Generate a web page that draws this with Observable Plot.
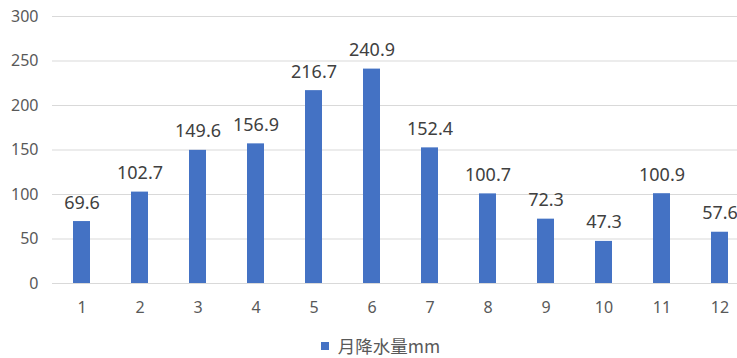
<!DOCTYPE html>
<html>
<head>
<meta charset="utf-8">
<script src="https://cdn.jsdelivr.net/npm/d3@7"></script>
<script src="https://cdn.jsdelivr.net/npm/@observablehq/plot@0.6"></script>
<style>
  html, body { margin: 0; padding: 0; background: #fff; }
  #chart { width: 737px; }
  .legend { height: 22px; padding-top: 10px; display: flex; justify-content: center; align-items: center;
    font-family: "Noto Sans CJK SC", "Noto Sans", sans-serif; font-size: 17.5px; line-height: 22px; color: #595959; padding-left: 24px; box-sizing: content-box; }
  .legend .sw { width: 8px; height: 8px; background: #4472c4; margin-right: 9px; }
</style>
</head>
<body>
<div id="chart"></div>
<script>
const months = ["1","2","3","4","5","6","7","8","9","10","11","12"];
const rainfall = [69.6, 102.7, 149.6, 156.9, 216.7, 240.9, 152.4, 100.7, 72.3, 47.3, 100.9, 57.6];
const yTicks = [0, 50, 100, 150, 200, 250, 300];
const seriesName = "月降水量mm";

const data = months.map((m, i) => ({month: m, value: rainfall[i]}));
const font = "'Noto Sans', 'Open Sans', sans-serif";

const plot = Plot.plot({
  width: 737,
  height: 325,
  marginTop: 16,
  marginBottom: 42,
  marginLeft: 52,
  marginRight: 0,
  style: {fontFamily: font, background: "#fff", overflow: "visible"},
  x: {domain: months, range: [52, 748], paddingInner: 0.707, paddingOuter: 0.3535, align: 0.5},
  y: {domain: [0, 300]},
  marks: [
    Plot.ruleY(yTicks, {stroke: "#d9d9d9", strokeWidth: 1}),
    Plot.axisY({ticks: yTicks, tickSize: 0, tickPadding: 14, fontSize: 16, fill: "#595959", label: null}),
    Plot.axisX({tickSize: 0, tickPadding: 18, fontSize: 16, fill: "#595959", label: null}),
    Plot.barY(data, {x: "month", y: "value", fill: "#4472c4"}),
    Plot.text(data, {x: "month", y: "value", text: d => d.value.toFixed(1), lineAnchor: "bottom", dy: -13, fontSize: 18, fill: "#404040"})
  ]
});
document.getElementById("chart").appendChild(plot);
const lg = document.createElement("div");
lg.className = "legend";
lg.innerHTML = `<span class="sw"></span><span>${seriesName}</span>`;
document.getElementById("chart").appendChild(lg);
</script>
</body>
</html>
